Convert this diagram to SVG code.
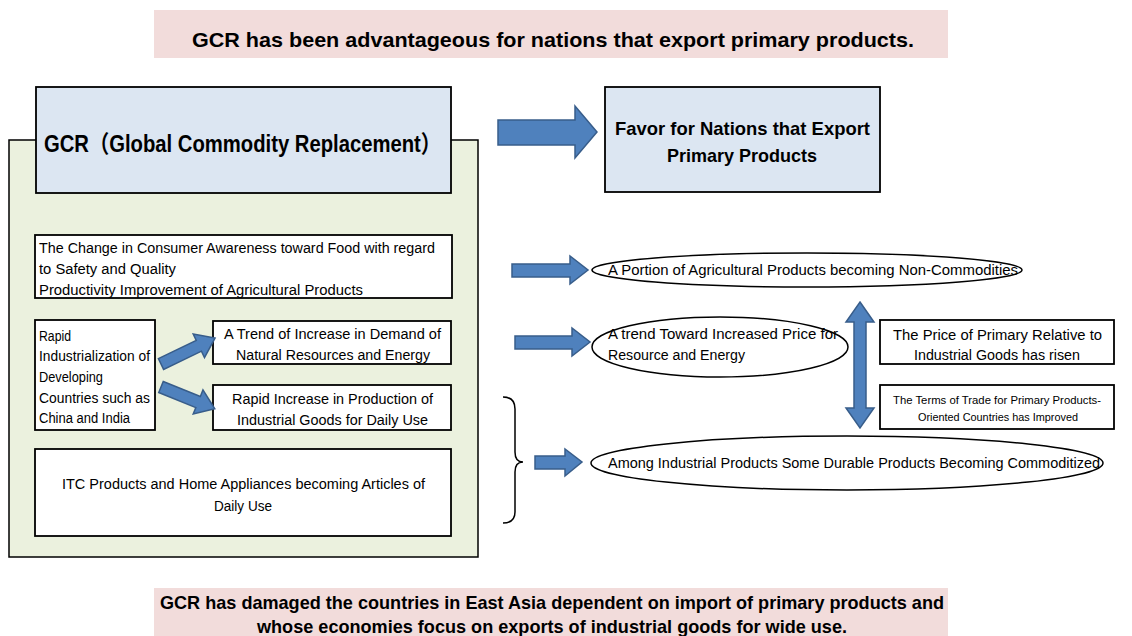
<svg xmlns="http://www.w3.org/2000/svg" width="1132" height="636" viewBox="0 0 1132 636">
  <style>
    text { font-family: "Liberation Sans", "Noto Sans CJK JP", sans-serif; fill: #000; }
    .banner { fill: #f2dcdb; }
    .bt { font-size: 21px; font-weight: bold; }
    .bt2 { font-size: 19px; font-weight: bold; }
    .blue { fill: #dce6f2; stroke: #000; stroke-width: 1.8; }
    .box { fill: #fff; stroke: #000; stroke-width: 1.8; }
    .oval { fill: #fff; stroke: #000; stroke-width: 1.5; }
    .t { font-size: 14px; }
    .ts { font-size: 11px; }
    .arrow { fill: #4f81bd; stroke: #385d8a; stroke-width: 1.5; }
  </style>

  <!-- headline -->
  <g id="headline">
    <rect class="banner" x="154" y="10" width="794" height="48"/>
    <text class="bt" x="192" y="47" textLength="722" lengthAdjust="spacingAndGlyphs">GCR has been advantageous for nations that export primary products.</text>
  </g>

  <!-- causes panel -->
  <g id="gcr-panel">
    <rect x="9" y="140" width="469" height="417" fill="#ebf1de" stroke="#000" stroke-width="1.5"/>
  </g>

  <g id="gcr-title">
    <rect class="blue" x="36" y="87" width="415" height="106"/>
    <text x="44" y="152" font-size="24" font-weight="bold" textLength="397" lengthAdjust="spacingAndGlyphs">GCR（Global Commodity Replacement）</text>
  </g>

  <g id="favor">
    <rect class="blue" x="605" y="87" width="275" height="105"/>
    <text class="bt2" x="615" y="135" textLength="255" lengthAdjust="spacingAndGlyphs">Favor for Nations that Export</text>
    <text class="bt2" x="667" y="162" textLength="150" lengthAdjust="spacingAndGlyphs">Primary Products</text>
  </g>

  <g id="food-awareness">
    <rect class="box" x="35" y="235" width="417" height="63"/>
    <text class="t" x="39" y="253" textLength="396" lengthAdjust="spacingAndGlyphs">The Change in Consumer Awareness toward Food with regard</text>
    <text class="t" x="39" y="274" textLength="137" lengthAdjust="spacingAndGlyphs">to Safety and Quality</text>
    <text class="t" x="39" y="295" textLength="324" lengthAdjust="spacingAndGlyphs">Productivity Improvement of Agricultural Products</text>
  </g>

  <g id="industrialization">
    <rect class="box" x="35" y="320" width="120" height="110"/>
    <text class="t" x="39" y="341" textLength="32" lengthAdjust="spacingAndGlyphs">Rapid</text>
    <text class="t" x="39" y="361" textLength="111" lengthAdjust="spacingAndGlyphs">Industrialization of</text>
    <text class="t" x="39" y="382" textLength="64" lengthAdjust="spacingAndGlyphs">Developing</text>
    <text class="t" x="39" y="403" textLength="111" lengthAdjust="spacingAndGlyphs">Countries such as</text>
    <text class="t" x="39" y="423" textLength="91" lengthAdjust="spacingAndGlyphs">China and India</text>
  </g>

  <g id="resource-demand">
    <rect class="box" x="213" y="321" width="238" height="43"/>
    <text class="t" x="224" y="339" textLength="217" lengthAdjust="spacingAndGlyphs">A Trend of Increase in Demand of</text>
    <text class="t" x="236" y="360" textLength="194" lengthAdjust="spacingAndGlyphs">Natural Resources and Energy</text>
  </g>

  <g id="goods-production">
    <rect class="box" x="213" y="385" width="238" height="45"/>
    <text class="t" x="232" y="404" textLength="201" lengthAdjust="spacingAndGlyphs">Rapid Increase in Production of</text>
    <text class="t" x="237" y="425" textLength="191" lengthAdjust="spacingAndGlyphs">Industrial Goods for Daily Use</text>
  </g>

  <g id="itc-products">
    <rect class="box" x="35" y="449" width="416" height="87"/>
    <text class="t" x="62" y="489" textLength="363" lengthAdjust="spacingAndGlyphs">ITC Products and Home Appliances becoming Articles of</text>
    <text class="t" x="214" y="511" textLength="58" lengthAdjust="spacingAndGlyphs">Daily Use</text>
  </g>

  <g id="non-commodities">
    <ellipse class="oval" cx="807" cy="270" rx="215" ry="17"/>
    <text class="t" x="608" y="275" textLength="410" lengthAdjust="spacingAndGlyphs">A Portion of Agricultural Products becoming Non-Commodities</text>
  </g>

  <g id="resource-price">
    <ellipse class="oval" cx="720" cy="347" rx="128" ry="30"/>
    <text class="t" x="608" y="339" textLength="230" lengthAdjust="spacingAndGlyphs">A trend Toward Increased Price for</text>
    <text class="t" x="608" y="360" textLength="137" lengthAdjust="spacingAndGlyphs">Resource and Energy</text>
  </g>

  <g id="commoditized">
    <ellipse class="oval" cx="847" cy="463" rx="256" ry="27"/>
    <text class="t" x="608" y="468" textLength="492" lengthAdjust="spacingAndGlyphs">Among Industrial Products Some Durable Products Becoming Commoditized</text>
  </g>

  <g id="relative-price">
    <rect class="box" x="880" y="320" width="234" height="44"/>
    <text class="t" x="893" y="340" textLength="209" lengthAdjust="spacingAndGlyphs">The Price of Primary Relative to</text>
    <text class="t" x="914" y="360" textLength="166" lengthAdjust="spacingAndGlyphs">Industrial Goods has risen</text>
  </g>

  <g id="terms-of-trade">
    <rect class="box" x="880" y="385" width="234" height="44"/>
    <text class="ts" x="893" y="404" textLength="208" lengthAdjust="spacingAndGlyphs">The Terms of Trade for Primary Products-</text>
    <text class="ts" x="918" y="421" textLength="160" lengthAdjust="spacingAndGlyphs">Oriented Countries has Improved</text>
  </g>

  <!-- block arrows and brace -->
  <g id="connectors">
    <polygon class="arrow" points="498,120 575,120 575,106 597,132 575,158 575,145 498,145"/>
    <g transform="translate(161,364) rotate(-25.7)">
      <polygon class="arrow" points="0,-6 42,-6 42,-13 60,0 42,13 42,6 0,6"/>
    </g>
    <g transform="translate(161,387) rotate(22)">
      <polygon class="arrow" points="0,-6 40,-6 40,-13 58,0 40,13 40,6 0,6"/>
    </g>
    <polygon class="arrow" points="512,264 570,264 570,256 588,270 570,284 570,277 512,277"/>
    <polygon class="arrow" points="515,336 572,336 572,328 590,342 572,356 572,349 515,349"/>
    <polygon class="arrow" points="535,456 565,456 565,449 582,462 565,476 565,469 535,469"/>
    <polygon class="arrow" points="860,302 874,322 866,322 866,408 874,408 860,428 846,408 854,408 854,322 846,322"/>
    <path d="M503,397 Q515,397 515,409 L515,452 Q515,462 523,462 Q515,462 515,472 L515,512 Q515,523 503,523" fill="none" stroke="#000" stroke-width="1.5"/>
  </g>

  <!-- closing statement -->
  <g id="conclusion">
    <rect class="banner" x="154" y="588" width="794" height="48"/>
    <text class="bt2" x="160" y="609" textLength="784" lengthAdjust="spacingAndGlyphs">GCR has damaged the countries in East Asia dependent on import of primary products and</text>
    <text class="bt2" x="257" y="633" textLength="590" lengthAdjust="spacingAndGlyphs">whose economies focus on exports of industrial goods for wide use.</text>
  </g>
</svg>
